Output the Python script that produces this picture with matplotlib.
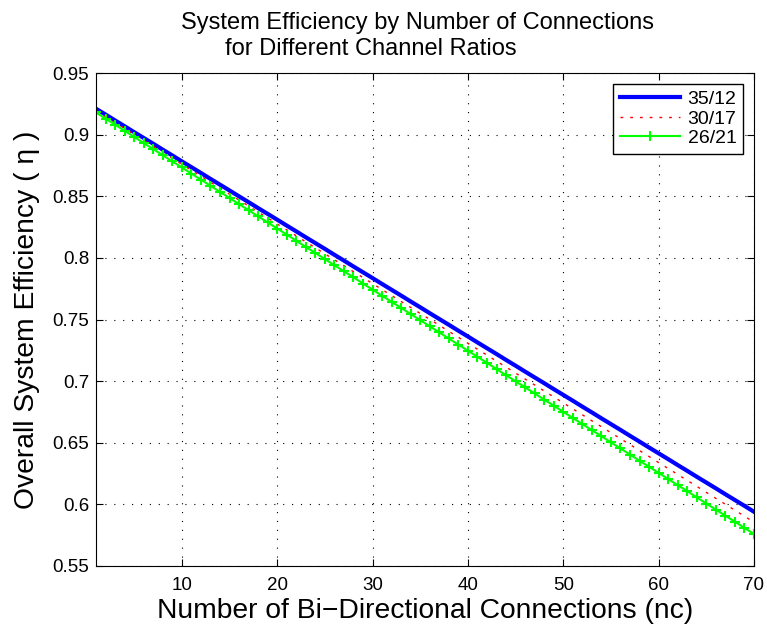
import matplotlib
matplotlib.use("Agg")
import matplotlib.pyplot as plt
from matplotlib.ticker import FixedLocator, FuncFormatter

plt.rcParams["font.family"] = ["Liberation Sans", "DejaVu Sans"]

# Number of bi-directional connections
nc = list(range(1, 71))

# Efficiency per channel ratio
eff_35_12 = [
    0.9210, 0.9163, 0.9115, 0.9068, 0.9020, 0.8973, 0.8926, 0.8878, 0.8831, 0.8783,
    0.8736, 0.8689, 0.8641, 0.8594, 0.8547, 0.8499, 0.8452, 0.8404, 0.8357, 0.8310,
    0.8262, 0.8215, 0.8167, 0.8120, 0.8073, 0.8025, 0.7978, 0.7930, 0.7883, 0.7836,
    0.7788, 0.7741, 0.7694, 0.7646, 0.7599, 0.7551, 0.7504, 0.7457, 0.7409, 0.7362,
    0.7314, 0.7267, 0.7220, 0.7172, 0.7125, 0.7077, 0.7030, 0.6983, 0.6935, 0.6888,
    0.6841, 0.6793, 0.6746, 0.6698, 0.6651, 0.6604, 0.6556, 0.6509, 0.6461, 0.6414,
    0.6367, 0.6319, 0.6272, 0.6224, 0.6177, 0.6130, 0.6082, 0.6035, 0.5988, 0.5940,
]
eff_30_17 = [
    0.9195, 0.9147, 0.9098, 0.9050, 0.9001, 0.8953, 0.8905, 0.8856, 0.8808, 0.8759,
    0.8711, 0.8663, 0.8614, 0.8566, 0.8517, 0.8469, 0.8421, 0.8372, 0.8324, 0.8275,
    0.8227, 0.8179, 0.8130, 0.8082, 0.8033, 0.7985, 0.7937, 0.7888, 0.7840, 0.7791,
    0.7743, 0.7695, 0.7646, 0.7598, 0.7549, 0.7501, 0.7453, 0.7404, 0.7356, 0.7307,
    0.7259, 0.7211, 0.7162, 0.7114, 0.7065, 0.7017, 0.6969, 0.6920, 0.6872, 0.6823,
    0.6775, 0.6727, 0.6678, 0.6630, 0.6581, 0.6533, 0.6485, 0.6436, 0.6388, 0.6339,
    0.6291, 0.6243, 0.6194, 0.6146, 0.6097, 0.6049, 0.6001, 0.5952, 0.5904, 0.5855,
]
eff_26_21 = [
    0.9180, 0.9130, 0.9081, 0.9031, 0.8982, 0.8932, 0.8883, 0.8833, 0.8783, 0.8734,
    0.8684, 0.8635, 0.8585, 0.8536, 0.8486, 0.8436, 0.8387, 0.8337, 0.8288, 0.8238,
    0.8189, 0.8139, 0.8089, 0.8040, 0.7990, 0.7941, 0.7891, 0.7842, 0.7792, 0.7742,
    0.7693, 0.7643, 0.7594, 0.7544, 0.7495, 0.7445, 0.7395, 0.7346, 0.7296, 0.7247,
    0.7197, 0.7148, 0.7098, 0.7048, 0.6999, 0.6949, 0.6900, 0.6850, 0.6801, 0.6751,
    0.6701, 0.6652, 0.6602, 0.6553, 0.6503, 0.6454, 0.6404, 0.6354, 0.6305, 0.6255,
    0.6206, 0.6156, 0.6107, 0.6057, 0.6007, 0.5958, 0.5908, 0.5859, 0.5809, 0.5760,
]

x_ticks = [10, 20, 30, 40, 50, 60, 70]
y_ticks = [0.55, 0.6, 0.65, 0.7, 0.75, 0.8, 0.85, 0.9, 0.95]

fig = plt.figure(figsize=(7.67, 6.27), dpi=100)
ax = fig.add_axes([96 / 767, 1 - 566 / 627, 658 / 767, 493 / 627])

ax.plot(nc, eff_35_12, color="#0000ff", lw=3, label="35/12")
ax.plot(nc, eff_30_17, color="#ff0000", lw=1, ls=(0, (2, 5)), label="30/17")
ax.plot(nc, eff_26_21, color="#00ff00", lw=1.5, marker="+", ms=7, mew=1.5, label="26/21")

ax.set_xlim(1, 70)
ax.set_ylim(0.55, 0.95)
ax.xaxis.set_major_locator(FixedLocator(x_ticks))
ax.yaxis.set_major_locator(FixedLocator(y_ticks))
ax.yaxis.set_major_formatter(FuncFormatter(lambda v, p: f"{v:g}"))
ax.tick_params(direction="in", top=True, right=True, labelsize=13.5, length=5)
ax.tick_params(axis="x", pad=8)
ax.tick_params(axis="y", pad=5)
ax.grid(True, color="black", ls=(0, (1, 7)), lw=0.8)

ax.set_xlabel("Number of Bi\u2212Directional Connections (nc)", fontsize=20.3, labelpad=3)
ax.set_ylabel("Overall System Efficiency ( \u03b7 )", fontsize=20.3, labelpad=9)

fig.text(181 / 767, 1 - 29 / 627, "System Efficiency by Number of Connections",
         fontsize=17, ha="left", va="baseline")
fig.text(225 / 767, 1 - 55 / 627, "for Different Channel Ratios",
         fontsize=17, ha="left", va="baseline")

leg = ax.legend(loc="upper right", fontsize=14, fancybox=False, framealpha=1,
                edgecolor="black", borderaxespad=0.55, handlelength=3.1,
                handletextpad=0.4, labelspacing=0.1, borderpad=0.35)
leg.get_frame().set_linewidth(1.0)

fig.savefig("out.png", dpi=100)
